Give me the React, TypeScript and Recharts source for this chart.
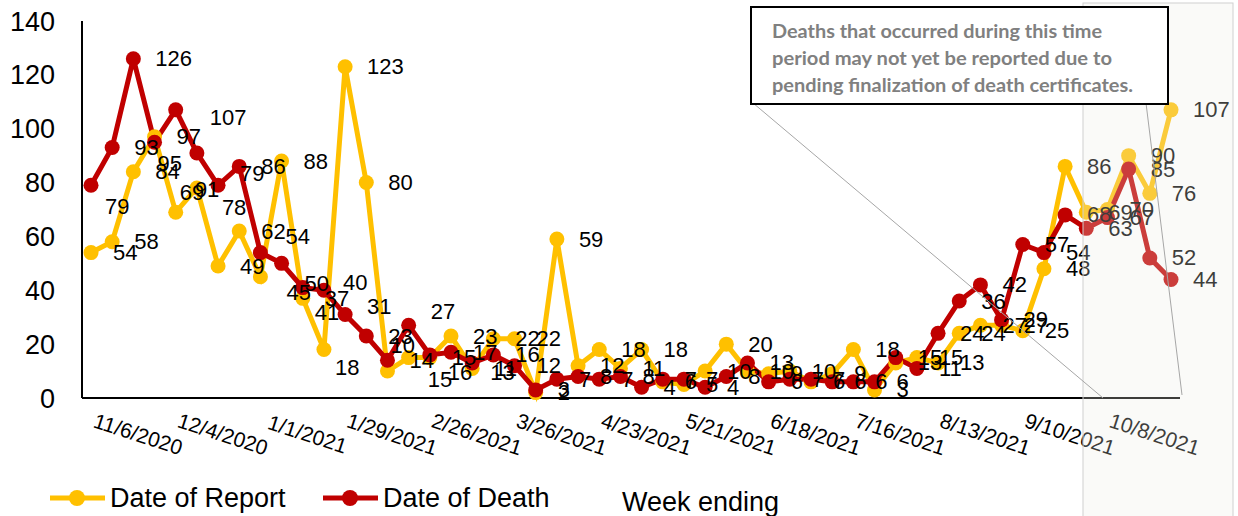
import React from 'react';
import { LineChart, Line, XAxis, YAxis, LabelList, Legend } from 'recharts';

const FONT = '"Liberation Sans", Arial, sans-serif';

const weeks = [
  '10/30/2020', '11/6/2020', '11/13/2020', '11/20/2020', '11/27/2020', '12/4/2020', '12/11/2020', '12/18/2020', '12/25/2020',
  '1/1/2021', '1/8/2021', '1/15/2021', '1/22/2021', '1/29/2021', '2/5/2021', '2/12/2021', '2/19/2021', '2/26/2021',
  '3/5/2021', '3/12/2021', '3/19/2021', '3/26/2021', '4/2/2021', '4/9/2021', '4/16/2021', '4/23/2021', '4/30/2021',
  '5/7/2021', '5/14/2021', '5/21/2021', '5/28/2021', '6/4/2021', '6/11/2021', '6/18/2021', '6/25/2021', '7/2/2021',
  '7/9/2021', '7/16/2021', '7/23/2021', '7/30/2021', '8/6/2021', '8/13/2021', '8/20/2021', '8/27/2021', '9/3/2021',
  '9/10/2021', '9/17/2021', '9/24/2021', '10/1/2021', '10/8/2021', '10/15/2021', '10/22/2021',
];

const dateOfReport = [
  54, 58, 84, 97, 69, 78, 49, 62, 45, 88, 37, 18, 123, 80, 10, 15, 15, 23, 11, 22, 22, 2, 59, 12, 18, 11,
  18, 6, 5, 10, 20, 10, 9, 10, 6, 9, 18, 3, 13, 15, 13, 24, 27, 27, 25, 48, 86, 69, 70, 90, 76, 107,
];

const dateOfDeath = [
  79, 93, 126, 95, 107, 91, 79, 86, 54, 50, 41, 40, 31, 23, 14, 27, 16, 17, 13, 16, 12, 3, 7, 8, 7, 8,
  4, 7, 7, 4, 8, 13, 6, 7, 7, 6, 6, 6, 15, 11, 24, 36, 42, 29, 57, 54, 68, 63, 67, 85, 52, 44,
];

const xTickLabels = [
  '11/6/2020', '12/4/2020', '1/1/2021', '1/29/2021', '2/26/2021', '3/26/2021', '4/23/2021',
  '5/21/2021', '6/18/2021', '7/16/2021', '8/13/2021', '9/10/2021', '10/8/2021',
];

const yTicks = [0, 20, 40, 60, 80, 100, 120, 140];

const seriesNames = ['Date of Report', 'Date of Death'];
const seriesColors = ['#FFC000', '#C00000'];

const calloutLines = [
  'Deaths that occurred during this time',
  'period may not yet be reported due to',
  'pending finalization of death certificates.',
];

// label nudges (relative to default right-of-point placement), mimicking the manually moved labels
const labelNudges: Record<string, [number, number]> = {
  'death-0': [-8, 21],
  'death-3': [-19, 21],
  'death-4': [12, 8],
  'death-5': [-24, 37],
  'report-4': [-18, -20],
  'report-5': [3, 20],
  'death-6': [0, -12],
  'death-8': [3, -16],
  'report-8': [4, 16],
  'death-9': [1, 20],
  'death-10': [-10, 25],
  'death-11': [-3, -8],
  'report-11': [-11, 18],
  'death-12': [0, -8],
  'report-14': [-19, -26],
  'death-15': [0, -14],
  'report-15': [-3, 22],
  'death-16': [-4, 18],
  'death-18': [-4, 10],
};

const data = weeks.map((w, i) => ({ week: w, report: dateOfReport[i], death: dateOfDeath[i] }));

const XTick = (props: any) => {
  const { x, y, payload } = props;
  if (!xTickLabels.includes(payload.value)) return <g />;
  const cx = x + 26;
  const cy = y + 36;
  return (
    <text
      x={cx}
      y={cy}
      textAnchor="middle"
      dominantBaseline="central"
      transform={`rotate(18 ${cx} ${cy})`}
      fontSize={21}
      fontFamily={FONT}
      fill="#000"
    >
      {payload.value}
    </text>
  );
};

const DataLabel = (props: any) => {
  const { x, y, value, index, series } = props;
  if (x == null || y == null) return null;
  const nudge = labelNudges[`${series}-${index}`] || [0, 0];
  return (
    <text x={x + 22 + nudge[0]} y={y + nudge[1]} dominantBaseline="central" fontSize={22} fontFamily={FONT} fill="#000">
      {value}
    </text>
  );
};

const AxisTitle = (props: any) => {
  const vb = props.viewBox || { x: 82, y: 398 };
  return (
    <text x={vb.x + 540} y={vb.y + 104} dominantBaseline="central" fontSize={27} fontFamily={FONT} fill="#000">
      Week ending
    </text>
  );
};

const LegendContent = () => (
  <svg width={600} height={46} style={{ display: 'block' }}>
    {seriesNames.map((name, i) => {
      const x0 = i === 0 ? 50 : 323;
      return (
        <g key={name}>
          <line x1={x0} y1={23} x2={x0 + 55} y2={23} stroke={seriesColors[i]} strokeWidth={5} />
          <circle cx={x0 + 27} cy={23} r={8} fill={seriesColors[i]} />
          <text x={x0 + 60} y={23} dominantBaseline="central" fontSize={27} fontFamily={FONT} fill="#000">
            {name}
          </text>
        </g>
      );
    })}
  </svg>
);

export default function App() {
  return (
    <div style={{ position: 'absolute', left: 0, top: 0, width: 1238, height: 516, background: '#fff', overflow: 'hidden' }}>
      <LineChart width={1238} height={516} data={data} margin={{ top: 21, right: 58, bottom: 0, left: 0 }}>
        <XAxis
          dataKey="week"
          scale="point"
          padding={{ left: 9, right: 9 }}
          interval={0}
          tickLine={false}
          tickSize={0}
          tickMargin={0}
          height={118}
          axisLine={{ stroke: '#000', strokeWidth: 2 }}
          tick={<XTick />}
          label={<AxisTitle />}
        />
        <YAxis
          domain={[0, 140]}
          ticks={yTicks}
          width={82}
          tickLine={false}
          tickSize={0}
          tickMargin={27}
          axisLine={{ stroke: '#000', strokeWidth: 2 }}
          tick={{ fontSize: 27, fontFamily: FONT, fill: '#000' }}
          interval={0}
        />
        <Legend
          layout="horizontal"
          verticalAlign="middle"
          align="center"
          content={<LegendContent />}
          wrapperStyle={{ position: 'absolute', left: 0, top: 475, width: 600, height: 46 }}
        />
        <Line
          name={seriesNames[0]}
          dataKey="report"
          stroke={seriesColors[0]}
          strokeWidth={5}
          dot={{ r: 7.5, fill: seriesColors[0], stroke: seriesColors[0], strokeWidth: 0 }}
          activeDot={false}
          isAnimationActive={false}
        />
        <Line
          name={seriesNames[1]}
          dataKey="death"
          stroke={seriesColors[1]}
          strokeWidth={5}
          dot={{ r: 7.5, fill: seriesColors[1], stroke: seriesColors[1], strokeWidth: 0 }}
          activeDot={false}
          isAnimationActive={false}
        />
        <Line dataKey="report" stroke="none" dot={false} activeDot={false} legendType="none" isAnimationActive={false}>
          <LabelList dataKey="report" content={<DataLabel series="report" />} />
        </Line>
        <Line dataKey="death" stroke="none" dot={false} activeDot={false} legendType="none" isAnimationActive={false}>
          <LabelList dataKey="death" content={<DataLabel series="death" />} />
        </Line>
      </LineChart>
      <svg width={1238} height={516} style={{ position: 'absolute', left: 0, top: 0, pointerEvents: 'none' }}>
        <rect x={1083} y={3} width={150} height={530} fill="#ecece4" fillOpacity={0.26} stroke="#d0d0d0" strokeWidth={1} />
        <line x1={753} y1={103} x2={1103} y2={398} stroke="#a6a6a6" strokeWidth={1} />
        <line x1={1146} y1={103} x2={1182} y2={395} stroke="#a6a6a6" strokeWidth={1} />
        <rect x={751} y={7} width={417} height={97} fill="#fff" stroke="#000" strokeWidth={2} />
        {calloutLines.map((t, i) => (
          <text
            key={i}
            x={772}
            y={38 + i * 27}
            fontSize={18}
            fontWeight="bold"
            fontFamily="Lato, 'Open Sans', sans-serif"
            fill="#808080"
            textLength={[330, 340, 361][i]}
            lengthAdjust="spacingAndGlyphs"
          >
            {t}
          </text>
        ))}
      </svg>
    </div>
  );
}
